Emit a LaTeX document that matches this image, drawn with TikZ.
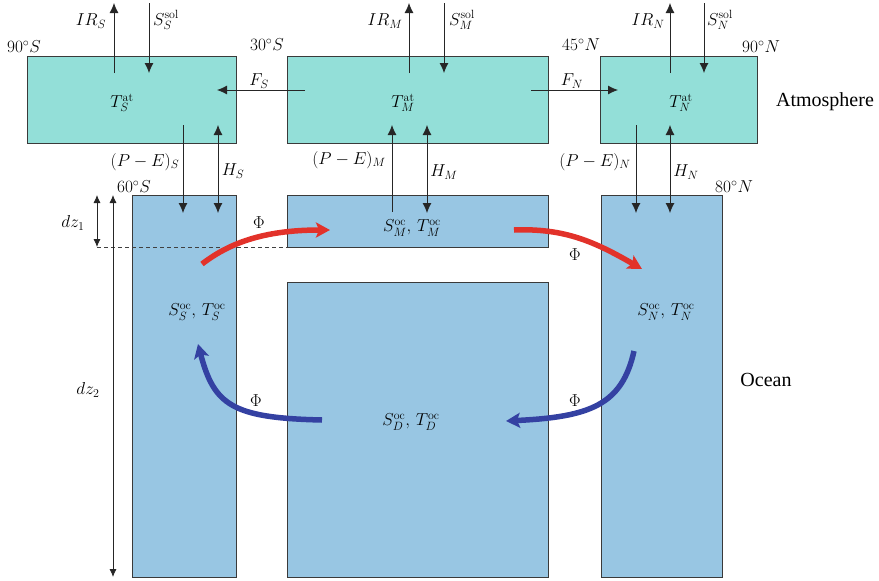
\documentclass[tikz,border=0pt]{standalone}
\usepackage{fontspec}
\newfontfamily\timesf{Liberation Serif}
\usetikzlibrary{arrows.meta}
\definecolor{atm}{HTML}{93DFD8}
\definecolor{ocn}{HTML}{98C6E3}
\definecolor{redf}{HTML}{E2322A}
\definecolor{bluef}{HTML}{3441A2}
\definecolor{edge}{HTML}{3A3A3A}
\begin{document}
\begin{tikzpicture}[x=1pt,y=-1pt,
  font=\fontsize{17}{20}\selectfont,
  atmbox/.style={draw=edge,line width=0.9pt,fill=atm,rectangle,inner sep=0pt,outer sep=0pt,anchor=north west},
  ocnbox/.style={draw=edge,line width=0.9pt,fill=ocn,rectangle,inner sep=0pt,outer sep=0pt,anchor=north west},
  flux/.style={line width=0.8pt,draw=black!85},
  tip/.style={-{Latex[length=10pt,width=9pt]}},
  dtip/.style={{Latex[length=10pt,width=9pt]}-{Latex[length=10pt,width=9pt]}},
  ztip/.style={{Latex[length=8pt,width=7pt]}-{Latex[length=8pt,width=7pt]}},
  circ/.style={line width=5.5pt,-{Stealth[length=14pt,width=15pt,inset=3pt]}},
  lab/.style={inner sep=0pt},
  word/.style={inner sep=0pt,font=\timesf\fontsize{20}{24}\selectfont}]
\useasboundingbox (0,0) rectangle (879,581);
% boxes
\node[atmbox,minimum width=209pt,minimum height=87pt] (aS) at (27,56) {};
\node[atmbox,minimum width=261pt,minimum height=87pt] (aM) at (287,56) {};
\node[atmbox,minimum width=157pt,minimum height=87pt] (aN) at (600,56) {};
\node[ocnbox,minimum width=104pt,minimum height=382pt] (oS) at (132,195) {};
\node[ocnbox,minimum width=261pt,minimum height=52pt] (oM) at (287,195) {};
\node[ocnbox,minimum width=261pt,minimum height=295pt] (oD) at (287,282) {};
\node[ocnbox,minimum width=121pt,minimum height=382pt] (oN) at (601,195) {};
% coordinates
\coordinate (irS0) at (114,73); \coordinate (irS1) at (114,3);
\coordinate (slS0) at (149,3);  \coordinate (slS1) at (149,73);
\coordinate (irM0) at (409,73); \coordinate (irM1) at (409,3);
\coordinate (slM0) at (444,3);  \coordinate (slM1) at (444,73);
\coordinate (irN0) at (670,73); \coordinate (irN1) at (670,3);
\coordinate (slN0) at (704,3);  \coordinate (slN1) at (704,73);
\coordinate (fS0) at (305,90);  \coordinate (fS1) at (217,90);
\coordinate (fN0) at (531,90);  \coordinate (fN1) at (618,90);
\coordinate (peS0) at (183,125); \coordinate (peS1) at (183,213);
\coordinate (hS0) at (218,125);  \coordinate (hS1) at (218,213);
\coordinate (peM0) at (392,212); \coordinate (peM1) at (392,125);
\coordinate (hM0) at (427,125);  \coordinate (hM1) at (427,213);
\coordinate (peN0) at (636,125); \coordinate (peN1) at (636,213);
\coordinate (hN0) at (670,125);  \coordinate (hN1) at (670,213);
\coordinate (dz1a) at (97,195); \coordinate (dz1b) at (97,247);
\coordinate (dz2a) at (113,195); \coordinate (dz2b) at (113,577);
\coordinate (dashR) at (287,247);
% dashed level
\draw[line width=0.7pt,draw=black!75,dash pattern=on 4pt off 3pt] (dz1b) -- (dashR);
% thin fluxes
\draw[flux,tip] (irS0) -- (irS1);
\draw[flux,tip] (slS0) -- (slS1);
\draw[flux,tip] (irM0) -- (irM1);
\draw[flux,tip] (slM0) -- (slM1);
\draw[flux,tip] (irN0) -- (irN1);
\draw[flux,tip] (slN0) -- (slN1);
\draw[flux,tip] (fS0) -- (fS1);
\draw[flux,tip] (fN0) -- (fN1);
\draw[flux,tip] (peS0) -- (peS1);
\draw[flux,dtip] (hS0) -- (hS1);
\draw[flux,tip] (peM0) -- (peM1);
\draw[flux,dtip] (hM0) -- (hM1);
\draw[flux,tip] (peN0) -- (peN1);
\draw[flux,dtip] (hN0) -- (hN1);
\draw[flux,ztip] (dz1a) -- (dz1b);
\draw[flux,ztip] (dz2a) -- (dz2b);
% circulation
\coordinate (r1a) at (202,264); \coordinate (r1b) at (330,230);
\coordinate (r2a) at (514,230); \coordinate (r2b) at (642,269);
\coordinate (b1a) at (634,351); \coordinate (b1b) at (506,421);
\coordinate (b2a) at (322,420); \coordinate (b2b) at (198,344);
\draw[circ,redf] (r1a) .. controls (228,244) and (262,230) .. (r1b);
\draw[circ,redf] (r2a) .. controls (565,228) and (595,242) .. (r2b);
\draw[circ,bluef] (b1a) .. controls (622,405) and (590,417) .. (b1b);
\draw[circ,bluef] (b2a) .. controls (232,418) and (214,405) .. (b2b);
% labels
\node[lab] (lIRS) at (91,21) {$IR_S$};
\node[lab] (lSS) at (166,20) {$S_S^{\mathrm{sol}}$};
\node[lab] (lIRM) at (385,21) {$IR_M$};
\node[lab] (lSM) at (462,20) {$S_M^{\mathrm{sol}}$};
\node[lab] (lIRN) at (648,21) {$IR_N$};
\node[lab] (lSN) at (720,20) {$S_N^{\mathrm{sol}}$};
\node[lab] (l90S) at (24,47) {$90^\circ S$};
\node[lab] (l30S) at (267,45) {$30^\circ S$};
\node[lab] (l45N) at (581,45) {$45^\circ N$};
\node[lab] (l90N) at (761,47) {$90^\circ N$};
\node[lab] (lFS) at (259,81) {$F_S$};
\node[lab] (lFN) at (572,81) {$F_N$};
\node[lab] (tS) at (122,103) {$T_S^{\mathrm{at}}$};
\node[lab] (tM) at (403,103) {$T_M^{\mathrm{at}}$};
\node[lab] (tN) at (681,103) {$T_N^{\mathrm{at}}$};
\node[lab] (lPES) at (145,162) {$(P-E)_S$};
\node[lab] (lHS) at (233,171) {$H_S$};
\node[lab] (lPEM) at (349,160) {$(P-E)_M$};
\node[lab] (lHM) at (444,172) {$H_M$};
\node[lab] (lPEN) at (595,162) {$(P-E)_N$};
\node[lab] (lHN) at (686,172) {$H_N$};
\node[lab] (l60S) at (134,187) {$60^\circ S$};
\node[lab] (l80N) at (734,187) {$80^\circ N$};
\node[lab] (sM) at (412,228) {$S_M^{\mathrm{oc}},\,T_M^{\mathrm{oc}}$};
\node[lab] (sS) at (197,312) {$S_S^{\mathrm{oc}},\,T_S^{\mathrm{oc}}$};
\node[lab] (sN) at (666,312) {$S_N^{\mathrm{oc}},\,T_N^{\mathrm{oc}}$};
\node[lab] (sD) at (411,422) {$S_D^{\mathrm{oc}},\,T_D^{\mathrm{oc}}$};
\node[lab] (p1) at (259,223) {$\Phi$};
\node[lab] (p2) at (575,255) {$\Phi$};
\node[lab] (p3) at (575,401) {$\Phi$};
\node[lab] (p4) at (256,401) {$\Phi$};
\node[lab] (ldz1) at (73,223) {$dz_1$};
\node[lab] (ldz2) at (88,390) {$dz_2$};
\node[word] (wAtm) at (825,102) {Atmosphere};
\node[word] (wOcn) at (766,380) {Ocean};
\end{tikzpicture}
\end{document}
